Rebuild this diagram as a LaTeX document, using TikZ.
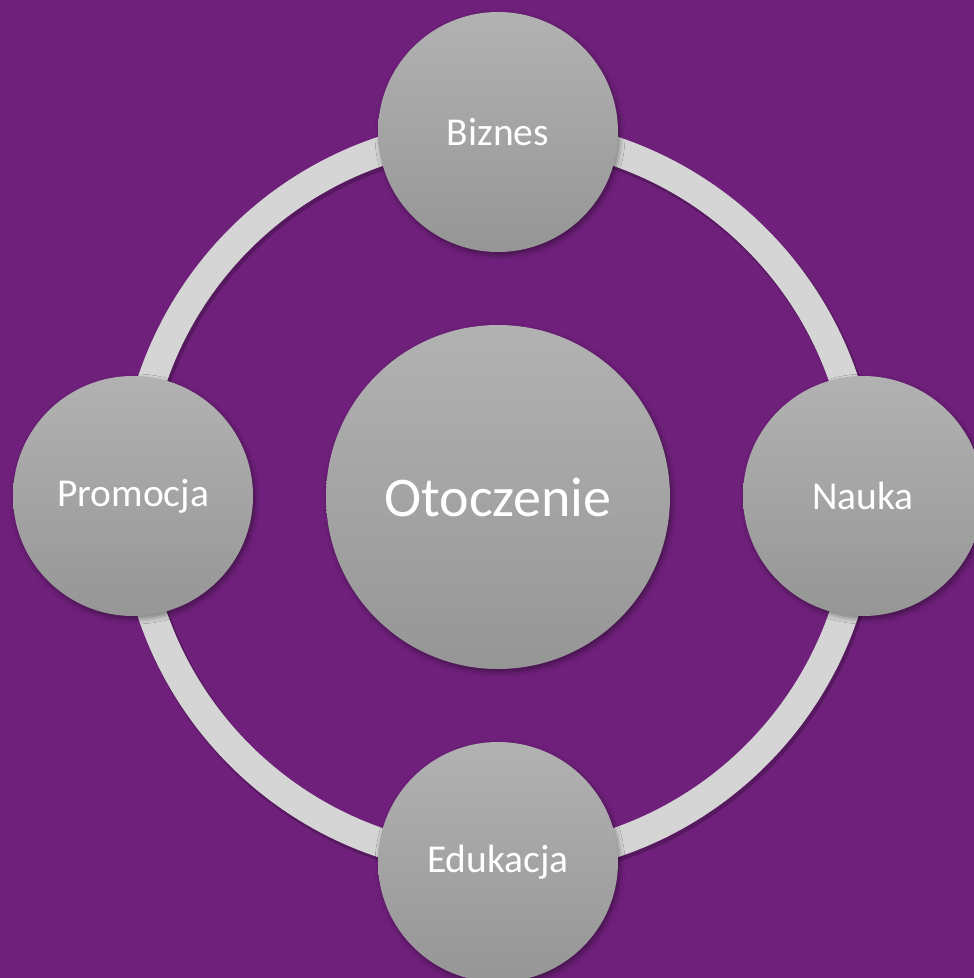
\documentclass[tikz,border=0pt]{standalone}
\usepackage{fontspec}
\setmainfont{Carlito}
\usetikzlibrary{shadows.blur}
\tikzset{
  every picture/.style={x=1pt, y=-1pt},
  bubble/.style={circle, inner sep=0pt, minimum size=240pt, text=white,
    top color=bubtop, bottom color=bubbot,
    blur shadow={shadow xshift=2pt, shadow yshift=-3pt, shadow blur radius=5pt, shadow opacity=40},
    font=\fontsize{39.5}{46}\selectfont},
  hub/.style={bubble, minimum size=344pt, font=\fontsize{56}{66}\selectfont},
  ring/.style={draw=ringgray, line width=29pt},
  ringshadow/.style={draw=black, opacity=0.22, line width=31pt}
}

\begin{document}
\begin{tikzpicture}
\definecolor{bgpurple}{RGB}{111,32,123}
\definecolor{bubtop}{RGB}{178,178,178}
\definecolor{bubbot}{RGB}{150,150,150}
\definecolor{ringgray}{RGB}{213,213,213}
%% background
\fill[bgpurple] (0,0) rectangle (974,978);
\useasboundingbox (0,0) rectangle (974,978);

\coordinate (mid) at (498,497);

%% ring
\draw[ringshadow] ([shift={(2,3)}]mid) circle[radius=365pt];
\draw[ring] (mid) circle[radius=365pt];

%% circles
\node[hub] (otoczenie) at (mid) {Otoczenie};
\node[bubble] (biznes) at (498,132) {Biznes};
\node[bubble] (nauka) at (863,496) {Nauka};
\node[bubble] (edukacja) at (498,862) {Edukacja};
\node[bubble] (promocja) at (133,496) {Promocja};

\end{tikzpicture}
\end{document}
